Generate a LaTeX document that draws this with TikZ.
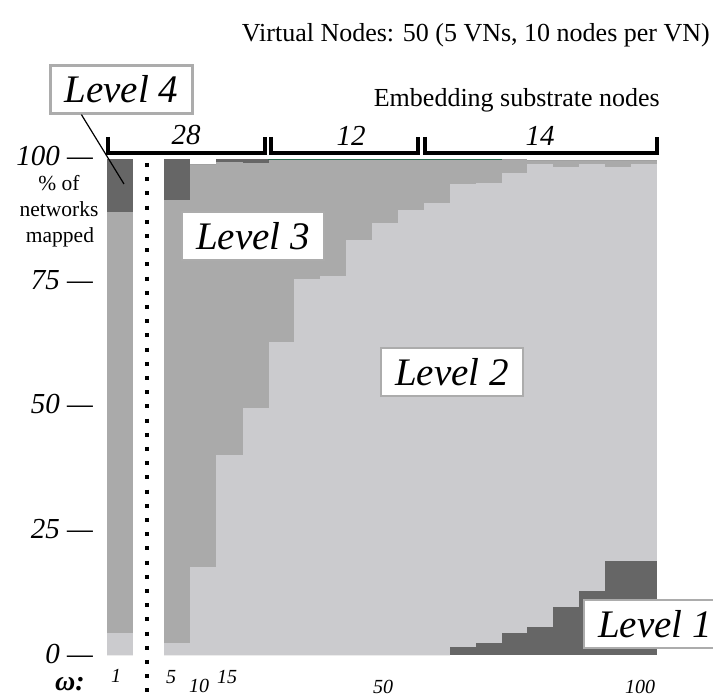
\documentclass[tikz,border=0pt]{standalone}
\usepackage{fontspec}
\setmainfont{Liberation Serif}
\usetikzlibrary{calc}

\definecolor{lvdark}{RGB}{102,102,102}
\definecolor{lvmid}{RGB}{170,170,170}
\definecolor{lvlight}{RGB}{203,203,206}
\definecolor{boxedge}{RGB}{172,172,172}
\definecolor{rimgreen}{RGB}{40,110,80}

% one stacked column: x0, x1, top of level 1, top of level 2, top of level 3, top of level 4
\newcommand\stackbar[6]{%
  \fill[lvdark]  (#1,655) rectangle (#2,#3);
  \fill[lvlight] (#1,#3)  rectangle (#2,#4);
  \fill[lvmid]   (#1,#4)  rectangle (#2,#5);
  \fill[lvdark]  (#1,#5)  rectangle (#2,#6);
}

\begin{document}
\begin{tikzpicture}[x=1pt,y=-1pt,
  levelbox/.style={draw=boxedge, line width=2.2pt, fill=white,
    font=\fontsize{39}{39}\selectfont\itshape,
    minimum width=142pt, minimum height=48pt, inner sep=0pt},
  ticklab/.style={font=\fontsize{29}{29}\selectfont\itshape, anchor=base east, inner sep=0pt},
  wlab/.style={font=\fontsize{20}{20}\selectfont\itshape, anchor=base, inner sep=0pt},
  countlab/.style={font=\fontsize{29}{29}\selectfont\itshape, anchor=base, inner sep=0pt},
  headlab/.style={font=\fontsize{26}{26}\selectfont, anchor=base east, inner sep=0pt},
  axislab/.style={font=\fontsize{21.5}{21.5}\selectfont, anchor=base, inner sep=0pt},
  bracket/.style={line width=4.2pt, line join=miter, line cap=butt},
  pointer/.style={line width=1.2pt},
  dots/.style={line width=4pt, dash pattern=on 4pt off 10.2pt}]
\useasboundingbox (0,0) rectangle (713,700);

% omega = 1 column
\stackbar{107}{133}{655}{633}{212}{159}

% omega = 5 ... 100 columns
\stackbar{164}{190}{655}{643}{200}{159}
\stackbar{190}{216}{655}{567}{164}{164}
\stackbar{216}{243}{655}{455}{162}{159}
\stackbar{243}{269}{655}{408}{163}{159}
\stackbar{269}{294}{655}{342}{159}{159}
\stackbar{294}{320}{655}{279}{159}{159}
\stackbar{320}{346}{655}{276}{159}{159}
\stackbar{346}{372}{655}{240}{159}{159}
\stackbar{372}{398}{655}{223}{159}{159}
\stackbar{398}{424}{655}{210}{159}{159}
\stackbar{424}{450}{655}{203}{159}{159}
\stackbar{450}{476}{647}{184}{159}{159}
\stackbar{476}{502}{643}{183}{159}{159}
\stackbar{502}{527}{633}{173}{159}{159}
\stackbar{527}{553}{627}{164}{160}{160}
\stackbar{553}{579}{607}{167}{160}{160}
\stackbar{579}{605}{591}{164}{160}{160}
\stackbar{605}{631}{561}{167}{160}{160}
\stackbar{631}{657}{561}{164}{160}{160}

% thin rim along the top of the middle columns
\draw[rimgreen, line width=0.8pt] (268,159.4) -- (502,159.4);

% separator between omega = 1 and the rest
\draw[dots] (147,163) -- (147,694);

% brackets of embedding substrate nodes
\draw[bracket] (108,137) |- (265,153) -- (265,137);
\draw[bracket] (271,137) |- (418,153) -- (418,137);
\draw[bracket] (425,137) |- (657,153) -- (657,137);
\node[countlab] (n28) at (186,145) {28};
\node[countlab] (n12) at (351,146) {12};
\node[countlab] (n14) at (540,146) {14};

% headings
\node[headlab] (title) at (710,42) {Virtual Nodes: 50 (5 VNs, 10 nodes per VN)};
\node[headlab] (embed) at (660,107) {Embedding substrate nodes};

% vertical axis
\node[ticklab] (t100) at (93,166) {100 —};
\node[ticklab] (t75)  at (93,290) {75 —};
\node[ticklab] (t50)  at (93,414) {50 —};
\node[ticklab] (t25)  at (93,539) {25 —};
\node[ticklab] (t0)   at (93,663) {0 —};
\node[axislab] (ya) at (59,191) {\% of};
\node[axislab] (yb) at (59,217) {networks};
\node[axislab] (yc) at (60,243) {mapped};

% horizontal axis
\node[font=\fontsize{28}{28}\selectfont\bfseries\itshape, anchor=base, inner sep=0pt] (wsym) at (70,690) {ω:};
\node[wlab] (w1)   at (116,682) {1};
\node[wlab] (w5)   at (171,683) {5};
\node[wlab] (w10)  at (199,692) {10};
\node[wlab] (w15)  at (227,683) {15};
\node[wlab] (w50)  at (383,693) {50};
\node[wlab] (w100) at (640,693) {100};

% level labels
\node[levelbox] (lv4) at (121.5,89.5) {Level 4};
\node[levelbox] (lv3) at (253,236) {Level 3};
\node[levelbox] (lv2) at (452,372) {Level 2};
\node[levelbox] (lv1) at (655,624) {Level 1};
\coordinate (lv4tip) at (124,184);
\draw[pointer] ($(lv4.south west)+(32,0)$) -- (lv4tip);
\end{tikzpicture}
\end{document}
